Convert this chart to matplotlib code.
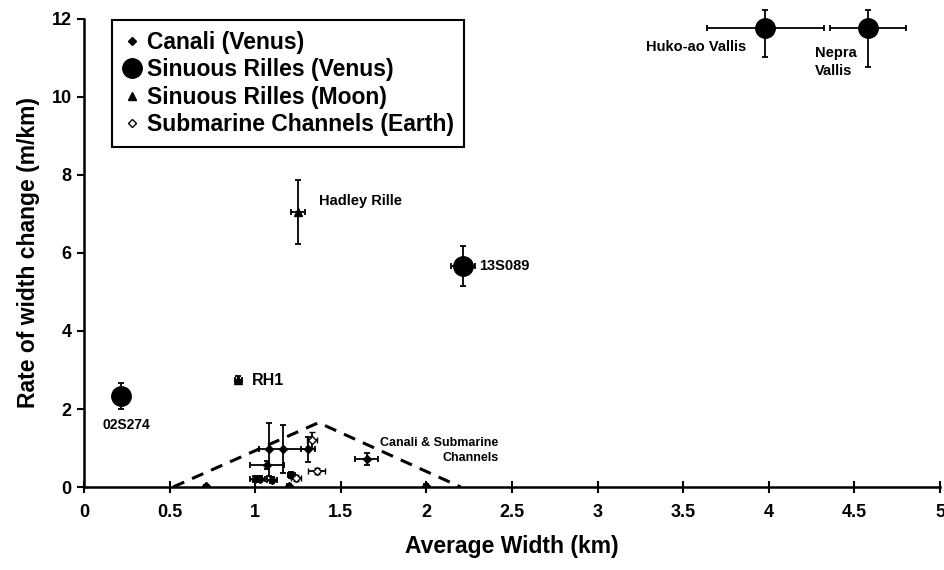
import matplotlib
matplotlib.use("Agg")
import matplotlib.pyplot as plt
from matplotlib.lines import Line2D

plt.rcParams['font.family'] = ['Liberation Sans', 'DejaVu Sans']
plt.rcParams['font.weight'] = 'bold'

# Canali (Venus) - filled small diamonds
canali_x = [0.71, 1.00, 1.03, 1.10, 1.07, 1.08, 1.16, 1.31, 1.21, 1.20, 1.65, 2.00]
canali_y = [0.02, 0.20, 0.20, 0.18, 0.56, 0.97, 0.97, 0.97, 0.30, 0.02, 0.71, 0.02]
canali_xerr = [0.0, 0.03, 0.03, 0.03, 0.10, 0.0, 0.14, 0.04, 0.02, 0.0, 0.07, 0.0]
canali_yerr = [0.03, 0.08, 0.08, 0.08, 0.10, 0.68, 0.62, 0.32, 0.08, 0.06, 0.15, 0.05]

# Submarine channels (Earth) - open diamonds
sub_x = [1.33, 1.36, 1.24]
sub_y = [1.20, 0.42, 0.24]
sub_xerr = [0.03, 0.05, 0.03]
sub_yerr = [0.20, 0.08, 0.08]

# Sinuous rilles (Venus) - big circles
vr_names = ['02S274', '13S089', 'Huko-ao Vallis', 'Nepra\nVallis']
vr_x = [0.215, 2.215, 3.98, 4.58]
vr_y = [2.33, 5.67, 11.76, 11.76]
vr_xerr = [0.03, 0.07, 0.34, 0.22]
vr_yerr_lo = [0.33, 0.52, 0.73, 1.00]
vr_yerr_hi = [0.33, 0.50, 0.47, 0.47]

# Sinuous rilles (Moon) - triangles
moon_names = ['Hadley Rille', 'RH1']
moon_x = [1.25, 0.90]
moon_y = [7.05, 2.74]
moon_xerr = [0.04, 0.02]
moon_yerr = [0.83, 0.10]

# Envelope of canali & submarine channels
env_x = [0.52, 1.37, 2.20]
env_y = [0.0, 1.65, 0.0]

x_ticks = [0, 0.5, 1, 1.5, 2, 2.5, 3, 3.5, 4, 4.5, 5]
x_ticklabels = ['0', '0.5', '1', '1.5', '2', '2.5', '3', '3.5', '4', '4.5', '5']
y_ticks = [0, 2, 4, 6, 8, 10, 12]

fig = plt.figure(figsize=(9.44, 5.70), dpi=100)
ax = fig.add_axes([0.089, 0.1456, 0.9068, 0.8211])

ax.plot(env_x, env_y, color='black', lw=2.2, dashes=(4, 2.8), zorder=2)

ebkw = dict(ecolor='black', elinewidth=1.3, capsize=2.5, capthick=1.3, linestyle='none')
ax.errorbar(canali_x, canali_y, xerr=canali_xerr, yerr=canali_yerr, marker='D',
            ms=4.5, mfc='black', mec='black', zorder=4, **ebkw)
ax.errorbar(sub_x, sub_y, xerr=sub_xerr, yerr=sub_yerr, marker='D',
            ms=4.5, mfc='white', mec='black', mew=1.0, zorder=4, **ebkw)
eb = ax.errorbar(vr_x, vr_y, xerr=vr_xerr, yerr=[vr_yerr_lo, vr_yerr_hi], marker='o',
                 ms=14, mfc='black', mec='black', zorder=5, **ebkw)
for art in eb.lines[1] + eb.lines[2]:
    art.set_clip_on(False)
eb.lines[0].set_clip_on(False)
ax.errorbar(moon_x, moon_y, xerr=moon_xerr, yerr=moon_yerr, marker='^',
            ms=5.5, mfc='black', mec='black', zorder=5, **ebkw)

tkw = dict(fontsize=10.5, fontweight='bold')
ax.text(vr_x[0] + 0.03, vr_y[0] - 0.55, vr_names[0], ha='center', va='top', fontsize=10, fontweight='bold')
ax.text(vr_x[1] + 0.09, vr_y[1], vr_names[1], ha='left', va='center', **tkw)
ax.text(3.28, 11.28, vr_names[2], ha='left', va='center', **tkw)
ax.text(4.27, 10.9, vr_names[3], ha='left', va='center', linespacing=1.4, **tkw)
ax.text(1.37, 7.33, moon_names[0], ha='left', va='center', **tkw)
ax.text(0.98, 2.74, moon_names[1], ha='left', va='center', fontsize=11.5, fontweight='bold')
ax.text(2.42, 0.93, 'Canali & Submarine\nChannels', ha='right', va='center',
        multialignment='right', linespacing=1.3, fontsize=9, fontweight='bold')

ax.set_xlim(0, 5)
ax.set_ylim(0, 12)
ax.set_xticks(x_ticks)
ax.set_xticklabels(x_ticklabels)
ax.set_yticks(y_ticks)
for s in ['top', 'right']:
    ax.spines[s].set_visible(False)
for s in ['left', 'bottom']:
    ax.spines[s].set_linewidth(1.8)
ax.tick_params(axis='x', direction='inout', length=9, width=1.5, labelsize=13, pad=8)
ax.tick_params(axis='y', direction='out', length=5, width=1.5, labelsize=13, pad=4)
for lab in ax.get_xticklabels() + ax.get_yticklabels():
    lab.set_fontweight('bold')

ax.set_xlabel('Average Width (km)', fontsize=16.5, fontweight='bold', labelpad=10)
ax.set_ylabel('Rate of width change (m/km)', fontsize=16.5, fontweight='bold', labelpad=8)

handles = [
    Line2D([], [], ls='none', marker='D', ms=4.5, mfc='black', mec='black'),
    Line2D([], [], ls='none', marker='o', ms=14, mfc='black', mec='black'),
    Line2D([], [], ls='none', marker='^', ms=5.5, mfc='black', mec='black'),
    Line2D([], [], ls='none', marker='D', ms=4.5, mfc='white', mec='black'),
]
labels = ['Canali (Venus)', 'Sinuous Rilles (Venus)', 'Sinuous Rilles (Moon)',
          'Submarine Channels (Earth)']
leg = ax.legend(handles, labels, loc='upper left', bbox_to_anchor=(0.033, 0.997),
                borderaxespad=0, fancybox=False, framealpha=1, edgecolor='black',
                handlelength=0.8, handletextpad=0.25, labelspacing=0.2,
                borderpad=0.45, prop={'size': 16.5, 'weight': 'bold'})
leg.get_frame().set_linewidth(1.5)

fig.savefig('out.png', dpi=100)
